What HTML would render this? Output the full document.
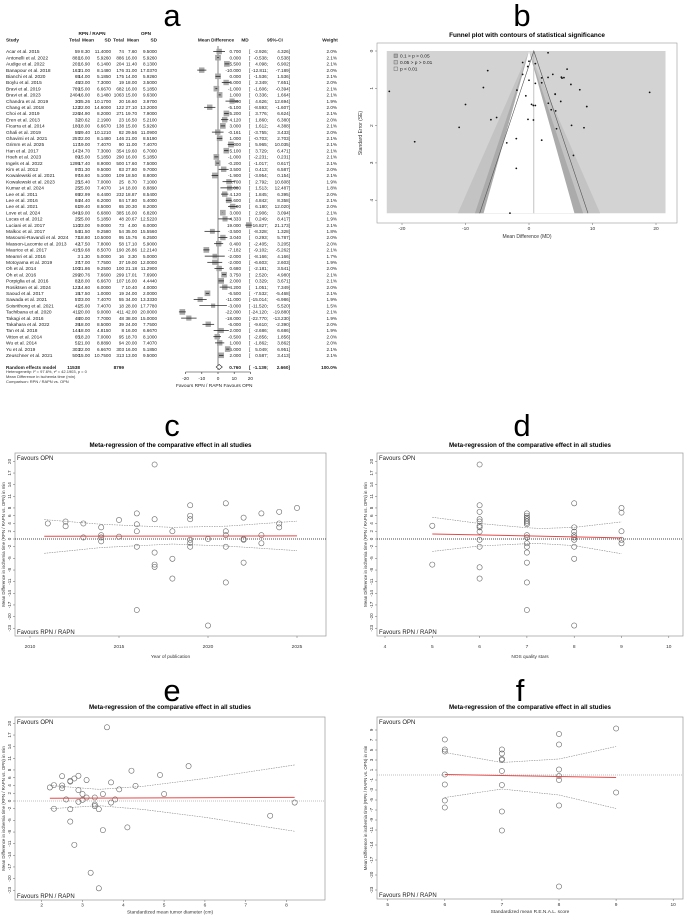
<!DOCTYPE html>
<html><head><meta charset="utf-8"><style>
body{margin:0;background:#fff}
svg{display:block;font-family:"Liberation Sans",Arial,sans-serif}
</style></head><body>
<svg id="fig" width="685" height="917" viewBox="0 0 685 917" xmlns="http://www.w3.org/2000/svg">
<rect width="685" height="917" fill="#fff"/>
<g id="gA"></g>
<g id="gB"></g>
<g id="gC"></g>
<g id="gD"></g>
<g id="gE"></g>
<g id="gF"></g>
</svg>
<script>
// ---------- Forest plot data ----------
const studies=["Acar et al. 2015","Antonelli et al. 2022","Audige et al. 2022","Banapour et al. 2018","Bianchi et al. 2020","Boylu et al. 2015","Bravi et al. 2019","Bravi et al. 2023","Chandra et al. 2019","Chang et al. 2018","Choi et al. 2019","Eren et al. 2013","Ficarra et al. 2014","Ghali et al. 2019","Ghavimi et al. 2021","Grimm et al. 2025","Han et al. 2017","Hoeh et al. 2023","Ingels et al. 2022","Kim et al. 2012","Kowalewski et al. 2021","Kowalewski et al. 2023","Kumar et al. 2024","Lee et al. 2011","Lee et al. 2016","Lee et al. 2021","Love et al. 2024","Lucas et al. 2012","Luciani et al. 2017","Malkoc et al. 2017","Masoumi-Ravandi et al. 2024","Masson-Lacomte et al. 2013","Maurice et al. 2017","Meamri et al. 2016","Motoyama et al. 2019","Oh et al. 2014","Oh et al. 2016","Porpiglia et al. 2016","Rosiktsen et al. 2024","Saoud et al. 2017","Sawada et al. 2021","Soisrithong et al. 2021","Tachibana et al. 2020","Takagi et al. 2016","Takahara et al. 2022","Tan et al. 2018","Vitton et al. 2014","Wu et al. 2014","Yu et al. 2019","Zeuschner et al. 2021"];
const nE=[59,881,201,163,65,45,789,2404,30,122,226,32,180,55,257,117,147,89,1295,97,97,25,25,69,84,61,849,25,110,54,71,42,415,3,37,100,299,82,122,15,57,41,411,48,39,144,65,51,303,500];
const mE=["8.30","16.00","16.90","21.00","14.00","23.00","15.00","16.00","25.26","22.00","24.90","20.62","18.00","29.40","22.00","19.00","24.70","15.00","17.40","31.30","16.60","15.40","25.00","22.99","24.40","29.40","19.00","25.00","23.00","31.50","18.80","17.50","19.68","1.30","17.00","21.86","20.76","18.00","14.60","17.50","23.00","25.00","20.00","20.00","18.00","18.00","18.20","21.00","22.00","15.00"];
const sdE=["11.4000","5.9260","6.1400","8.1480","5.1850","7.3000","6.6670","8.1480","10.1700","14.6000","8.2000","2.1900","6.6670","10.1210","8.1480","7.4070","7.3000","5.1850","8.9000","9.5000","5.1000","7.0000","7.4070","6.4400","6.2000","8.5000","6.6800","5.1850","9.0000","9.2580","10.5000","7.8000","8.5070","5.0000","7.7500","9.2500","7.6600","6.6670","6.0000","1.0000","7.4070","7.4070","9.0000","7.7000","8.5000","4.8150","7.0000","8.8890","6.6670","10.7500"];
const nC=[74,886,204,176,175,19,682,1063,20,122,271,23,138,82,146,90,354,290,500,83,109,25,14,232,84,65,385,48,73,54,95,58,190,16,37,100,299,107,7,19,55,18,411,48,39,8,95,94,303,313];
const mC=["7.60","16.00","11.40","31.00","14.00","18.00","16.00","15.00","16.60","27.10","19.70","16.50","15.00","29.56","21.00","11.00","19.60","16.00","17.60","27.80","18.50","8.70","18.00","18.87","17.80","20.30","16.00","20.67","4.00","35.00","15.76","17.10","26.86","3.30","19.00","21.18","17.01","16.00","10.40","24.00","34.00","28.00","42.00","38.00","24.00","16.00","18.70","20.00","16.00","13.00"];
const sdC=["9.5000","5.9260","8.1300","17.0370","5.9260","3.5000","5.1850","9.6300","3.9700","13.2000","7.9000","5.2100","5.9260","11.0900","8.5190","7.4070","6.7000","5.1850","7.5000","9.7000","8.8000","7.1000","8.8890","8.5400","5.4000","8.2000","6.8200","12.5220","6.0000","15.5560","6.2500","5.9000","12.2140","5.0000","12.0000","11.2900","7.6900","4.4440","4.0000","2.0000","13.3330","17.7780","20.0000","15.0000","7.7500","6.6670","8.1000","7.4070","5.1850","9.5000"];
const md=[0.700,0.000,5.500,-10.000,0.000,5.000,-1.000,1.000,8.660,-5.100,5.200,4.120,3.000,-0.161,1.000,8.000,5.100,-1.000,-0.200,3.500,-1.900,6.700,7.000,4.120,6.600,9.100,3.000,4.333,19.000,-3.500,3.040,0.400,-7.182,-2.000,-2.000,0.680,3.750,2.000,4.200,-6.500,-11.000,-3.000,-22.000,-18.000,-6.000,2.000,-0.500,1.000,6.000,2.000];
const ciLo=[-2.926,-0.538,4.098,-12.811,-1.536,2.349,-1.606,0.336,4.626,-8.593,3.776,1.860,1.612,-3.755,-0.703,5.965,3.729,-2.231,-1.017,0.413,-3.954,2.792,1.513,1.845,4.842,6.180,2.906,0.249,16.827,-8.328,0.293,-2.405,-9.102,-8.166,-6.603,-2.181,2.520,0.329,1.051,-7.532,-15.014,-11.520,-24.120,-22.770,-9.610,-2.686,-2.856,-1.862,5.049,0.587];
const ciHi=[4.326,0.538,6.902,-7.189,1.536,7.651,-0.394,1.664,12.694,-1.607,6.624,6.380,4.388,3.433,2.703,10.035,6.471,0.231,0.617,6.587,0.154,10.608,12.487,6.395,8.358,12.020,3.094,8.417,21.173,1.328,5.787,3.205,-5.262,4.166,2.603,3.541,4.980,3.671,7.349,-5.468,-6.986,5.520,-19.880,-13.230,-2.390,6.686,1.856,3.862,6.951,3.413];
const weight=[2.0,2.1,2.1,2.0,2.1,2.0,2.1,2.1,1.9,2.0,2.1,2.0,2.1,2.0,2.1,2.1,2.1,2.1,2.1,2.0,2.1,1.9,1.8,2.0,2.1,2.0,2.1,1.9,2.1,1.8,2.0,2.0,2.1,1.7,1.9,2.0,2.1,2.1,2.0,2.1,1.9,1.5,2.1,1.9,2.0,1.9,2.0,2.0,2.1,2.1];
const pooled=[0.760,-1.139,2.660];
const forestTicks=[-20,-10,0,10,20];

// ---------- Meta-regression data ----------
const yearX=[2011,2012,2012,2013,2013,2014,2014,2014,2014,2015,2015,2016,2016,2016,2016,2016,2017,2017,2017,2017,2017,2018,2018,2018,2019,2019,2019,2019,2019,2019,2020,2020,2021,2021,2021,2021,2021,2022,2022,2022,2022,2023,2023,2023,2024,2024,2024,2025];
const yearY=[4.0,4.5,3.3,4.0,0.4,3.0,1.0,0.4,-0.6,4.9,0.6,6.6,3.8,2.0,-2.0,-18.3,19.2,5.1,-3.5,-6.6,-7.2,2.0,-5.1,-10.2,8.7,6.0,5.1,-0.2,-1.0,-2.0,0.0,-22.3,9.2,2.0,1.0,-2.0,-11.2,5.5,0.0,-0.2,-6.1,6.6,1.0,-1.1,7.0,4.0,3.0,8.0];
const yearFit=[[2010.8,0.72],[2025,0.8]];
const yearCIx=[2010.8,2014,2018,2021,2025];
const yearCIup=[5.0,3.8,3.0,3.3,4.6];
const yearCIlo=[-3.7,-2.2,-1.3,-1.8,-3.0];

const nosX=[5,5,6,6,6,6,6,6,6,6,6,6,6,6,7,7,7,7,7,7,7,7,7,7,7,7,7,7,7,8,8,8,8,8,8,8,8,8,9,9,9,9,9];
const nosY=[3.4,-6.6,19.2,8.7,7.0,5.1,4.5,3.4,3.0,1.9,-0.2,-2.0,-7.3,-10.2,6.6,6.0,5.5,5.1,4.6,4.2,3.8,1.0,0.4,-1.1,-2.0,-3.5,-6.1,-11.2,-18.3,9.2,3.0,1.9,1.0,0.4,-0.2,-2.0,-5.1,-22.3,8.0,6.8,2.0,-0.2,-1.1];
const nosFit=[[5,1.3],[9,0.3]];
const nosCIx=[5,6,7,7.3,8,9];
const nosCIup=[5.6,4.0,2.9,2.7,3.0,4.4];
const nosCIlo=[-3.2,-1.8,-1.2,-1.2,-1.7,-3.8];

const diaX=[2.2,2.3,2.3,2.5,2.5,2.5,2.6,2.7,2.7,2.7,2.7,2.8,2.8,2.9,2.9,2.9,3.0,3.0,3.1,3.1,3.2,3.3,3.3,3.3,3.4,3.4,3.5,3.5,3.6,3.7,3.7,3.8,3.9,4.1,4.2,4.3,4.9,5.0,5.6,7.6,8.2];
const diaY=[3.5,4.1,-2.0,6.4,4.0,3.3,0.4,5.2,5.0,-2.1,-5.3,5.8,-11.3,6.5,2.8,-0.2,1.8,0.3,5.4,0.9,-18.5,0.9,-0.9,-1.3,-22.5,-2.1,1.8,-7.5,19.0,4.8,-0.4,0.4,3.0,-6.8,7.8,3.9,6.7,1.8,9.0,-3.8,-0.4];
const diaFit=[[2.2,0.7],[8.2,0.95]];
const diaCIx=[2.2,3.4,4.5,6,8.2];
const diaCIup=[4.0,3.0,3.8,5.8,9.3];
const diaCIlo=[-2.0,-1.2,-2.2,-4.2,-7.8];

const renX=[6,6,6,6,6,6,6,7,7,7,7,7,7,7,7,8,8,8,8,8,8,8,9,9];
const renY=[7.1,5.1,4.7,0.1,-1.9,-5.1,-6.5,5.1,4.3,3.2,3.0,0.8,-2.0,-7.3,-11.1,8.2,6.1,1.1,-0.2,-1.0,-6.1,-22.3,9.3,-3.5];
const renFit=[[6,0.1],[9,-0.5]];
const renCIx=[6,7,8,9];
const renCIup=[4.5,2.5,3.2,5.7];
const renCIlo=[-4.5,-2.8,-4.0,-6.7];

const yTicksMain=[20,17,14,11,8,6,4,2,0,-2,-5,-8,-11,-14,-17,-20,-23];
const yTicksRen=[9,7,5,3,1,-1,-3,-5,-7,-9,-11,-14,-17,-20,-23];

const NS="http://www.w3.org/2000/svg";
function mk(parent,tag,attrs,text){const e=document.createElementNS(NS,tag);for(const k in attrs)e.setAttribute(k,attrs[k]);if(text!==undefined)e.textContent=text;parent.appendChild(e);return e;}
const svg=document.getElementById('fig');

[["a",172,26],["b",522,26],["c",172,436],["d",522,436],["e",172,701],["f",520,701]].forEach(l=>{
  const t=mk(svg,'text',{x:l[1],y:l[2],'font-size':31,'text-anchor':'middle'},l[0]);
  
  
});

// ---------- Panel A: forest ----------
(function(){
  const g=document.getElementById('gA');
  const fx=v=>218+v*1.62;
  const rowY=i=>51.5+i*6.2;
  const fsN=4.8, fsD=4.6;
  const hdr=(x,y,s,anchor)=>{const t=mk(g,'text',{x:x,y:y,'font-size':4.7,'font-weight':'bold','text-anchor':anchor||'start',fill:'#222'},s);};
  hdr(92,35,'RPN / RAPN','middle');hdr(146,35,'OPN','middle');
  hdr(6,41.5,'Study');hdr(80,41.5,'Total','end');hdr(94,41.5,'Mean','end');hdr(111,41.5,'SD','end');
  hdr(124,41.5,'Total','end');hdr(139,41.5,'Mean','end');hdr(157,41.5,'SD','end');
  hdr(216,41.5,'Mean Difference','middle');hdr(245,41.5,'MD','middle');hdr(275,41.5,'95%-CI','middle');hdr(330,41.5,'Weight','middle');
  const vl=mk(g,'line',{x1:fx(0),x2:fx(0),y1:46,y2:370,stroke:'#333','stroke-width':0.6});
  
  for(let i=0;i<studies.length;i++){
    const y=rowY(i);
    const row=mk(g,'g',{});
    
    
    const tx=(x,s,a,f)=>mk(row,'text',{x:x,y:y+1.7,'font-size':f||fsD,'text-anchor':a||'end',fill:'#222'},s);
    tx(6,studies[i],'start',fsN);tx(80,nE[i]);tx(90,mE[i]);tx(111,sdE[i]);tx(124,nC[i]);tx(137,mC[i]);tx(157,sdC[i]);
    tx(241,md[i].toFixed(3));
    tx(249,'[','start');
    tx(268,ciLo[i].toFixed(3)+';');
    tx(290,ciHi[i].toFixed(3)+']');
    tx(337,weight[i].toFixed(1)+'%');
    const s=weight[i]*2.5;
    const sq=mk(row,'rect',{x:fx(md[i])-s/2,y:y-s/2,width:s,height:s,fill:'#a9a9a9',stroke:'#999','stroke-width':0.3});
    
    
    const ci=mk(row,'line',{x1:fx(ciLo[i]),x2:fx(ciHi[i]),y1:y,y2:y,stroke:'#111','stroke-width':0.7});
    
    
  }
  const yP=367;
  const pt=(x,s,a)=>{const t=mk(g,'text',{x:x,y:yP+1.8,'font-size':4.7,'text-anchor':a||'end','font-weight':'bold',fill:'#222'},s);};
  pt(6,'Random effects model','start');pt(80,'11538');pt(124,'8799');
  pt(241,pooled[0].toFixed(3));pt(249,'[','start');pt(268,pooled[1].toFixed(3)+';');pt(290,pooled[2].toFixed(3)+']');pt(337,'100.0%');
  const dm=mk(g,'polygon',{points:`${fx(pooled[1])},${yP} ${fx(pooled[0])},${yP-2.5} ${fx(pooled[2])},${yP} ${fx(pooled[0])},${yP+2.5}`,fill:'#fff',stroke:'#222','stroke-width':0.6});
  
  [['Heterogeneity: I² = 97.6%, τ² = 42.1903, p = 0',373],['Mean Difference in ischemia time (min)',378],['Comparison: RPN / RAPN vs. OPN',383]].forEach(r=>{
    const t=mk(g,'text',{x:6,y:r[1],'font-size':4,fill:'#333'},r[0]);});
  const ax=mk(g,'line',{x1:fx(-20),x2:fx(20),y1:372,y2:372,stroke:'#222','stroke-width':0.6});
  
  forestTicks.forEach(v=>{mk(g,'line',{x1:fx(v),x2:fx(v),y1:372,y2:374,stroke:'#222','stroke-width':0.6});
    const t=mk(g,'text',{x:fx(v),y:380,'font-size':4.7,'text-anchor':'middle',fill:'#222'},v);});
  const f1=mk(g,'text',{x:199,y:387,'font-size':4.8,'text-anchor':'middle',fill:'#222'},'Favours RPN / RAPN');
  const f2=mk(g,'text',{x:238,y:387,'font-size':4.8,'text-anchor':'middle',fill:'#222'},'Favours OPN');
})();

// ---------- Panel B: funnel ----------
(function(){
  const g=document.getElementById('gB');
  const bx=v=>529+v*6.35, by=s=>51+s*37.3;
  const seMax=4.35;
  const t=mk(g,'text',{x:527,y:37,'font-size':6.4,'font-weight':'bold','text-anchor':'middle'},'Funnel plot with contours of statistical significance');
  
  mk(g,'rect',{x:377,y:43,width:300,height:180,fill:'none',stroke:'#999','stroke-width':0.6});
  const bg=mk(g,'rect',{x:bx(-22.4),y:by(0),width:bx(21.5)-bx(-22.4),height:by(seMax)-by(0),fill:'#d3d3d3'});
  
  [[2.576,'#c3c3c3','contour-005-001'],[1.96,'#ababab','contour-01-005'],[1.645,'#ffffff','contour-nonsig']].forEach(c=>{
    const p=mk(g,'polygon',{points:`${bx(0)},${by(0)} ${bx(-c[0]*seMax)},${by(seMax)} ${bx(c[0]*seMax)},${by(seMax)}`,fill:c[1]});
    });
  mk(g,'line',{x1:bx(pooled[0]),x2:bx(pooled[0]),y1:by(0),y2:by(seMax),stroke:'#aaa','stroke-width':0.7});
  mk(g,'polyline',{points:`${bx(pooled[0]-1.96*seMax)},${by(seMax)} ${bx(pooled[0])},${by(0)} ${bx(pooled[0]+1.96*seMax)},${by(seMax)}`,fill:'none',stroke:'#555','stroke-width':0.6});
  for(let i=0;i<md.length;i++){
    const se=(ciHi[i]-ciLo[i])/3.92;
    const c=mk(g,'circle',{cx:bx(md[i]),cy:by(se),r:0.9,fill:'#111'});
    
  }
  [['0.1 > p > 0.05','#ababab',57],['0.05 > p > 0.01','#c3c3c3',63.5],['p < 0.01','#d3d3d3',70]].forEach(l=>{
    mk(g,'rect',{x:394,y:l[2]-3,width:3.5,height:3.5,fill:l[1],stroke:'#555','stroke-width':0.4});
    const tt=mk(g,'text',{x:400,y:l[2]+0.5,'font-size':4.8,fill:'#222'},l[0]);
    });
  [-20,-10,0,10,20].forEach(v=>{mk(g,'line',{x1:bx(v),x2:bx(v),y1:223,y2:225,stroke:'#666','stroke-width':0.5});
    const tt=mk(g,'text',{x:bx(v),y:230,'font-size':4.8,'text-anchor':'middle',fill:'#333'},v);});
  [0,1,2,3,4].forEach(v=>{mk(g,'line',{x1:375,x2:377,y1:by(v),y2:by(v),stroke:'#666','stroke-width':0.5});
    const tt=mk(g,'text',{x:373,y:by(v),'font-size':4.8,'text-anchor':'middle',fill:'#333',transform:`rotate(-90 373 ${by(v)})`},v);});
  const xl=mk(g,'text',{x:527,y:238,'font-size':5,'text-anchor':'middle',fill:'#333'},'Mean Difference (MD)');
  const yl=mk(g,'text',{x:362,y:133,'font-size':5,'text-anchor':'middle',fill:'#333',transform:'rotate(-90 362 133)'},'Standard Error (SE)');
})();

// ---------- Meta-regression panels ----------
function metaPanel(o){
  const g=document.getElementById(o.id);
  const sx=v=>o.x0px+(v-o.xmin)*o.xs, sy=v=>o.zeroY-v*o.ys;
  const b=o.box;
  const t=mk(g,'text',{x:(b[0]+b[1])/2,y:o.titleY,'font-size':6.2,'font-weight':'bold','text-anchor':'middle'},'Meta-regression of the comparative effect in all studies');
  
  const r=mk(g,'rect',{x:b[0],y:b[2],width:b[1]-b[0],height:b[3]-b[2],fill:'none',stroke:'#999','stroke-width':0.7});
  
  const zl=mk(g,'line',{x1:b[0],x2:b[1],y1:sy(0),y2:sy(0),stroke:o.zeroCol,'stroke-width':0.7,'stroke-dasharray':'1 1'});
  
  const up=o.cix.map((x,i)=>sx(x)+','+sy(o.ciup[i])).join(' ');
  const lo=o.cix.map((x,i)=>sx(x)+','+sy(o.cilo[i])).join(' ');
  const u=mk(g,'polyline',{points:up,fill:'none',stroke:'#888','stroke-width':0.6,'stroke-dasharray':'1.5 1'});
  
  const l=mk(g,'polyline',{points:lo,fill:'none',stroke:'#888','stroke-width':0.6,'stroke-dasharray':'1.5 1'});
  
  for(let i=0;i<o.xs_.length;i++){
    const c=mk(g,'circle',{cx:sx(o.xs_[i]),cy:sy(o.ys_[i]),r:2.6,fill:'none',stroke:'#666','stroke-width':0.6});
    
  }
  const fl=mk(g,'line',{x1:sx(o.fit[0][0]),y1:sy(o.fit[0][1]),x2:sx(o.fit[1][0]),y2:sy(o.fit[1][1]),stroke:'#e84848','stroke-width':1});
  
  const f1=mk(g,'text',{x:b[0]+2,y:b[2]+7,'font-size':6,fill:'#222'},'Favours OPN');
  const f2=mk(g,'text',{x:b[0]+2,y:b[3]-2,'font-size':6,fill:'#222'},'Favours RPN / RAPN');
  o.yt.forEach(v=>{const y=sy(v);mk(g,'line',{x1:b[0]-2,x2:b[0],y1:y,y2:y,stroke:'#666','stroke-width':0.5});
    const tt=mk(g,'text',{x:b[0]-4,y:y,'font-size':4.6,'text-anchor':'middle',fill:'#333',transform:`rotate(-90 ${b[0]-4} ${y})`},v);
    });
  o.xt.forEach(v=>{const x=sx(v);mk(g,'line',{x1:x,x2:x,y1:b[3],y2:b[3]+2,stroke:'#666','stroke-width':0.5});
    const tt=mk(g,'text',{x:x,y:b[3]+o.tkOff,'font-size':4.8,'text-anchor':'middle',fill:'#333'},v);
    });
  const xl=mk(g,'text',{x:(b[0]+b[1])/2,y:b[3]+o.lbOff,'font-size':4.8,'text-anchor':'middle',fill:'#333'},o.xlabel);
  
  const ym=(b[2]+b[3])/2, yx=b[0]-10;
  const yl=mk(g,'text',{x:yx,y:ym,'font-size':4.4,'text-anchor':'middle',fill:'#333',transform:`rotate(-90 ${yx} ${ym})`},'Mean Difference in ischemia time (RPN / RAPN vs. OPN) in min');
  
}
metaPanel({id:'gC',box:[15,326,453,636],titleY:447,zeroY:539,ys:3.88,x0px:30,xmin:2010,xs:17.8,xt:[2010,2015,2020,2025],yt:yTicksMain,xlabel:'Year of publication',zeroCol:'#111',tkOff:12,lbOff:22,xs_:yearX,ys_:yearY,fit:yearFit,cix:yearCIx,ciup:yearCIup,cilo:yearCIlo});
metaPanel({id:'gD',box:[377,683,453,636],titleY:447,zeroY:539,ys:3.88,x0px:385,xmin:4,xs:47.3,xt:[4,5,6,7,8,9,10],yt:yTicksMain,xlabel:'NOS quality stars',zeroCol:'#111',tkOff:12,lbOff:22,xs_:nosX,ys_:nosY,fit:nosFit,cix:nosCIx,ciup:nosCIup,cilo:nosCIlo});
metaPanel({id:'gE',box:[15,325,717,900],titleY:709,zeroY:801,ys:3.88,x0px:41.7,xmin:2,xs:40.8,xt:[2,3,4,5,6,7,8],yt:yTicksMain,xlabel:'Standardized mean tumor diameter (cm)',zeroCol:'#aaa',tkOff:6.5,lbOff:13.5,xs_:diaX,ys_:diaY,fit:diaFit,cix:diaCIx,ciup:diaCIup,cilo:diaCIlo});
metaPanel({id:'gF',box:[377,683,717,899],titleY:709,zeroY:775,ys:5,x0px:387.7,xmin:5,xs:57.1,xt:[5,6,7,8,9,10],yt:yTicksRen,xlabel:'Standardized mean R.E.N.A.L. score',zeroCol:'#aaa',tkOff:7,lbOff:14,xs_:renX,ys_:renY,fit:renFit,cix:renCIx,ciup:renCIup,cilo:renCIlo});
</script>
</body></html>
